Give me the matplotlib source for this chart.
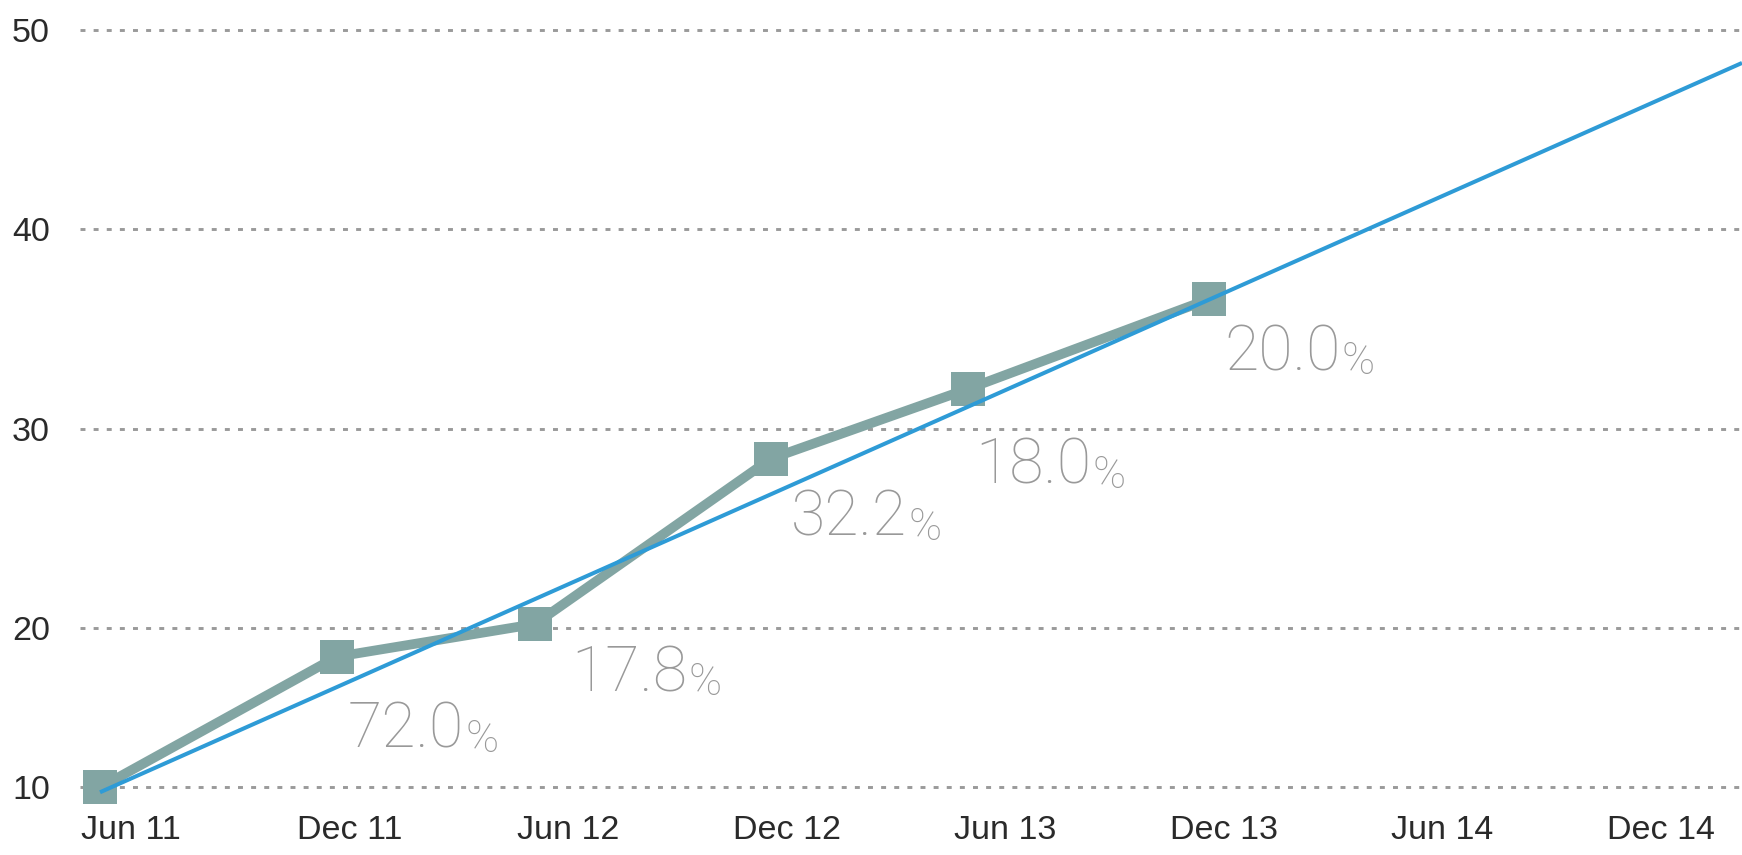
import numpy as np
import matplotlib
matplotlib.use("Agg")
import matplotlib.pyplot as plt

# ---------------- data ----------------
x_tick_months = [0, 6, 12, 18, 24, 30, 36, 42]
x_tick_labels = ["Jun 11", "Dec 11", "Jun 12", "Dec 12", "Jun 13", "Dec 13", "Jun 14", "Dec 14"]

y_tick_values = [10, 20, 30, 40, 50]
y_tick_labels = ["10", "20", "30", "40", "50"]

# series (x in months after Jun 11, as placed in the picture)
series_x = [-0.85, 5.65, 11.09, 17.57, 22.98, 29.59]
series_y = [10.0, 18.2, 20.2, 28.5, 32.0, 36.5]

# trend line end points
trend_x = [-0.85, 44.22]
trend_y = [9.7, 48.35]

# growth labels for points 1..5
growth_numbers = ["72.0", "17.8", "32.2", "18.0", "20.0"]

# ---------------- layout / style ----------------
label_offsets_px = [(11, -91), (36, -67), (20, -77), (7, -95), (15, -71)]
GRAY = "#82a5a3"
BLUE = "#2e9bd6"
LABEL_GRAY = "#999999"
TICK_COLOR = "#2a2a2a"


def fwd(y):
    y = np.asarray(y, dtype=float)
    return np.where(y < 20, 20 - (20 - y) * 0.8, y)


def inv(z):
    z = np.asarray(z, dtype=float)
    return np.where(z < 20, 20 - (20 - z) / 0.8, z)


W, H = 1742, 855
fig = plt.figure(figsize=(W / 100, H / 100), dpi=100)
ax = fig.add_axes([80 / W, 0.051, 1 - 80 / W, 0.9765 - 0.051])
ax.set_yscale("function", functions=(fwd, inv))

ax.set_xlim(-1.40, 44.22)
ax.set_ylim(8.5, 50.5)

for s in ax.spines.values():
    s.set_visible(False)

ax.set_yticks(y_tick_values)
ax.set_yticklabels(y_tick_labels)
ax.set_xticks(x_tick_months)
ax.set_xticklabels(x_tick_labels)
ax.yaxis.set_minor_locator(matplotlib.ticker.NullLocator())
ax.tick_params(axis="both", length=0, labelsize=24.5, labelcolor=TICK_COLOR)
ax.tick_params(axis="y", pad=21.6)
ax.tick_params(axis="x", pad=2.5)
for lab in ax.get_xticklabels() + ax.get_yticklabels():
    lab.set_family(["Liberation Sans", "DejaVu Sans"])

ax.yaxis.grid(True, color="#9a9a9a", linewidth=2.1, linestyle=(0, (1.7, 2.8)))
ax.set_axisbelow(True)

ax.plot(series_x, series_y, color=GRAY, linewidth=7, marker="s",
        markersize=25, markeredgewidth=0, zorder=3, clip_on=False)
ax.plot(trend_x, trend_y, color=BLUE, linewidth=2.9, zorder=4,
        solid_capstyle="butt", clip_on=False)

for i, txt in enumerate(growth_numbers):
    px, py = series_x[i + 1], series_y[i + 1]
    dx, dy = label_offsets_px[i]
    t = ax.annotate(txt, xy=(px, py), xytext=(dx, dy), textcoords="offset pixels",
                    ha="left", va="baseline", fontsize=45, color=LABEL_GRAY,
                    family=["Roboto", "DejaVu Sans"], fontweight="light", zorder=5)
    ax.annotate("%", xy=(1, 0), xycoords=t, xytext=(1, 0), textcoords="offset pixels",
                ha="left", va="bottom", fontsize=32, color=LABEL_GRAY,
                family=["Roboto", "DejaVu Sans"], fontweight="light", zorder=5)

fig.savefig("out.png", dpi=100, facecolor="white")
